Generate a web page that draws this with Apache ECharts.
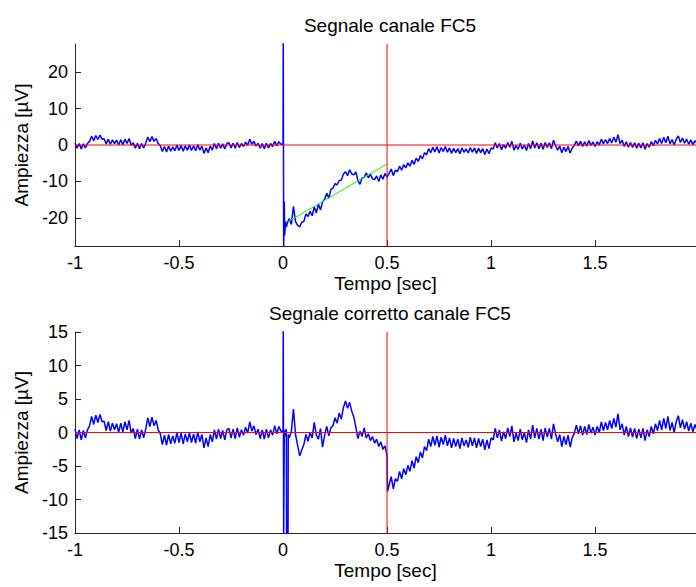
<!DOCTYPE html>
<html><head><meta charset="utf-8">
<script src="https://cdn.jsdelivr.net/npm/echarts@6/dist/echarts.min.js"></script>
<style>html,body{margin:0;padding:0;background:#fff}#c{width:696px;height:587px}</style>
</head><body><div id="c"></div>
<script>
// ---- data ----
const titles = ['Segnale canale FC5', 'Segnale corretto canale FC5'];
const xName = 'Tempo [sec]';
const yName = 'Ampiezza [\u00b5V]';
const xTicks = [-1, -0.5, 0, 0.5, 1, 1.5];
const yTicksRaw = [-20, -10, 0, 10, 20];
const yTicksCorr = [-15, -10, -5, 0, 5, 10, 15];
const xRange = [-1, 1.985];
const yRangeRaw = [-27.7, 27.7];
const yRangeCorr = [-15, 15];

const sampleStep = 0.01;
const preStart = -1;
const preValues = [
  0.5,-0.9,0.4,-1.1,0.3,-0.8,0.4,
  1.0,2.4,1.2,2.6,1.5,2.7,1.6,
  1.7,0.3,1.6,0.2,1.4,0.4,1.3,
  0.0,1.4,0.1,1.6,0.4,1.8,-0.1,
  0.6,-0.9,0.5,-1.0,0.4,-0.8,0.5,
  2.2,0.9,2.3,1.0,1.8,0.4,
  -0.2,-1.8,-0.4,-1.9,-0.3,-1.7,-0.5,
  -1.6,0.0,-1.5,-0.1,-1.7,-0.2,-1.4,
  0.0,-1.5,-0.2,-1.6,0.1,-1.4,-0.3,
  -2.3,-0.8,-2.1,-0.3,-1.4,
  0.4,-1.0,0.5,-0.9,0.3,-1.1,0.4,
  0.6,-0.8,0.5,-0.9,0.7,-0.7,0.4,
  -0.4,0.8,-0.1,1.6,0.2,1.0,-0.3,
  0.5,-0.9,0.4,-1.0,0.5,-0.8,0.4,
  -0.4,1.0,-0.2,0.9,0.2
];
const rawSpike = [[0,0.3],[0.001,29],[0.003,-28],[0.006,-15.5],[0.008,-24.8],[0.012,-21.0],[0.016,-22.5]];
const rawMidStart = 0.02;
const rawMid = [
  -21.5,-20.2,-21.8,-16.8,-21.0,-22.0,-22.5,-21.2,-21.0,
  -18.9,-19.6,-18.2,-19.4,-17.0,-18.6,-16.2,-17.8,-15.6,-14.9,
  -13.2,-14.6,-12.2,-11.8,-10.6,-10.9,-9.8,-9.6,-8.0,-7.3,
  -8.4,-6.8,-7.9,-8.2,-7.4,-9.8,-10.8,-9.0,-8.9,-7.6,
  -9.0,-8.0,-9.3,-9.5,-8.5,-10.0,-8.2,-9.4,-7.8,-8.8
];
const corrSpike = [[0,0.2],[0.001,16],[0.003,-16],[0.006,0.3],[0.01,-0.6],[0.014,0.5],[0.016,0.3],[0.017,-16],[0.024,-16],[0.025,-0.3]];
const corrMidStart = 0.03;
const corrMid = [
  -0.8,0.2,3.5,-0.3,-1.9,-3.5,-2.6,-1.8,
  -0.3,-1.3,0.0,-0.8,1.5,-0.4,-1.0,0.6,-2.2,-0.4,
  0.9,-0.5,0.7,1.0,2.2,1.4,2.9,2.0,3.7,4.7,
  3.6,4.5,3.2,2.3,0.8,-0.9,0.2,-0.6,0.7,-0.8,
  -0.2,-1.2,-0.6,-1.6,-1.0,-2.1,-1.4,-2.5,-2.0,-3.5
];
const corrJump = [[0.502,-8.8]];
const postStart = 0.51;
const postValues = [
  -7.8,-6.6,-8.4,-6.9,-7.3,-5.8,-6.9,-5.4,-6.3,-4.9,
  -5.8,-4.2,-5.3,-3.6,-4.5,-2.9,-3.8,-2.1,-2.7,-1.0,
  -2.1,-0.6,-1.9,-0.5,-2.2,-0.7,-1.8,-0.4,-2.0,-0.8,
  -2.3,-0.9,-2.1,-1.0,-2.4,-0.8,-2.0,-1.1,-2.2,-0.7,
  -2.0,-0.8,-2.3,-0.9,-2.1,-1.0,-2.6,-1.1,-2.4,-0.8,
  -1.1,0.6,-0.8,0.4,-1.3,0.1,-0.9,0.7,-0.6,1.0,
  -1.4,-0.1,-1.2,0.5,-1.1,0.0,-1.5,0.4,-1.0,1.1,
  -0.8,0.6,-1.0,0.5,-1.2,0.7,-0.7,0.6,-1.0,1.3,
  -0.2,-1.4,-0.3,-2.1,-0.6,-1.8,-0.4,-2.2,-0.8,-0.1,
  1.1,-0.2,1.0,-0.4,0.9,-0.3,1.2,-0.1,0.8,-0.4,
  0.9,0.0,1.6,0.3,1.5,0.4,1.8,0.6,2.1,0.8,
  2.8,0.4,1.3,-0.4,0.9,-0.6,0.7,-0.7,0.6,-0.9,
  0.5,-0.8,0.6,-1.2,0.4,-0.6,0.9,-0.2,1.3,0.3,
  1.8,0.4,2.1,0.6,2.4,0.3,1.5,0.0,1.6,2.5,
  0.7,1.9,0.5,1.6,0.2,1.4,0.1,1.2,0.4
];
const trendLine = [[0.025,-21],[0.5,-5.2]];
const markerTime = 0.5;
const baseline = 0;

// ---- build ----
function seq(start, vals) {
  return vals.map((v, i) => [Math.round((start + i * sampleStep) * 1000) / 1000, v]);
}
const rawSeries = [].concat(seq(preStart, preValues), rawSpike, seq(rawMidStart, rawMid), seq(postStart, postValues));
const corrSeries = [].concat(seq(preStart, preValues), corrSpike, seq(corrMidStart, corrMid), corrJump, seq(postStart, postValues));

const FONT = 'Liberation Sans, Arial, sans-serif';
const AX = '#262626';
const BLUE = '#0000ff', RED = '#ff0000', GREEN = '#00ff00';
function xAxis(idx) {
  return {
    type: 'value', gridIndex: idx, min: xRange[0], max: xRange[1], interval: 0.5,
    name: xName, nameLocation: 'middle', nameGap: 28,
    nameTextStyle: {fontFamily: FONT, fontSize: 19, color: '#000'},
    axisLine: {show: true, onZero: false, lineStyle: {color: AX, width: 1}},
    axisTick: {show: true, inside: true, length: 6, lineStyle: {color: AX}, customValues: xTicks},
    axisLabel: {fontFamily: FONT, fontSize: 18, color: '#000', margin: 8, customValues: xTicks},
    splitLine: {show: false}
  };
}
function yAxis(idx, range, ticks) {
  return {
    type: 'value', gridIndex: idx, min: range[0], max: range[1],
    name: yName, nameLocation: 'middle', nameRotate: 90, nameGap: 42,
    nameTextStyle: {fontFamily: FONT, fontSize: 19, color: '#000'},
    axisLine: {show: true, onZero: false, lineStyle: {color: AX, width: 1}},
    axisTick: {show: true, inside: true, length: 6, lineStyle: {color: AX}, customValues: ticks},
    axisLabel: {fontFamily: FONT, fontSize: 18, color: '#000', margin: 7, customValues: ticks},
    splitLine: {show: false}
  };
}
function lineSeries(idx, data, color, width, z) {
  return {
    type: 'line', xAxisIndex: idx, yAxisIndex: idx, data: data,
    showSymbol: false, symbol: 'none', clip: true, silent: true, z: z,
    color: color, itemStyle: {color: color},
    lineStyle: {color: color, width: width},
    emphasis: {disabled: true}
  };
}
function refLines(idx, yRange) {
  return [
    lineSeries(idx, [[xRange[0], baseline], [xRange[1], baseline]], RED, 1, 5),
    lineSeries(idx, [[markerTime, yRange[0]], [markerTime, yRange[1]]], RED, 1, 5)
  ];
}
const option = {
  animation: false,
  backgroundColor: '#fff',
  color: [BLUE, GREEN, RED],
  tooltip: {show: false},
  title: [
    {text: titles[0], left: 385, textAlign: 'center', top: 11, textStyle: {fontFamily: FONT, fontSize: 19, fontWeight: 'normal', color: '#000'}},
    {text: titles[1], left: 385, textAlign: 'center', top: 299, textStyle: {fontFamily: FONT, fontSize: 19, fontWeight: 'normal', color: '#000'}}
  ],
  grid: [
    {left: 75, top: 44, width: 621, height: 202},
    {left: 75, top: 332, width: 621, height: 201}
  ],
  xAxis: [xAxis(0), xAxis(1)],
  yAxis: [yAxis(0, yRangeRaw, yTicksRaw), yAxis(1, yRangeCorr, yTicksCorr)],
  series: [
    lineSeries(0, rawSeries, BLUE, 1.5, 2),
    lineSeries(1, corrSeries, BLUE, 1.5, 2),
    lineSeries(0, trendLine, GREEN, 1, 4),
    ...refLines(0, yRangeRaw),
    ...refLines(1, yRangeCorr)
  ]
};
const chart = echarts.init(document.getElementById('c'), null, {renderer: 'svg'});
chart.setOption(option);
</script>
</body></html>
